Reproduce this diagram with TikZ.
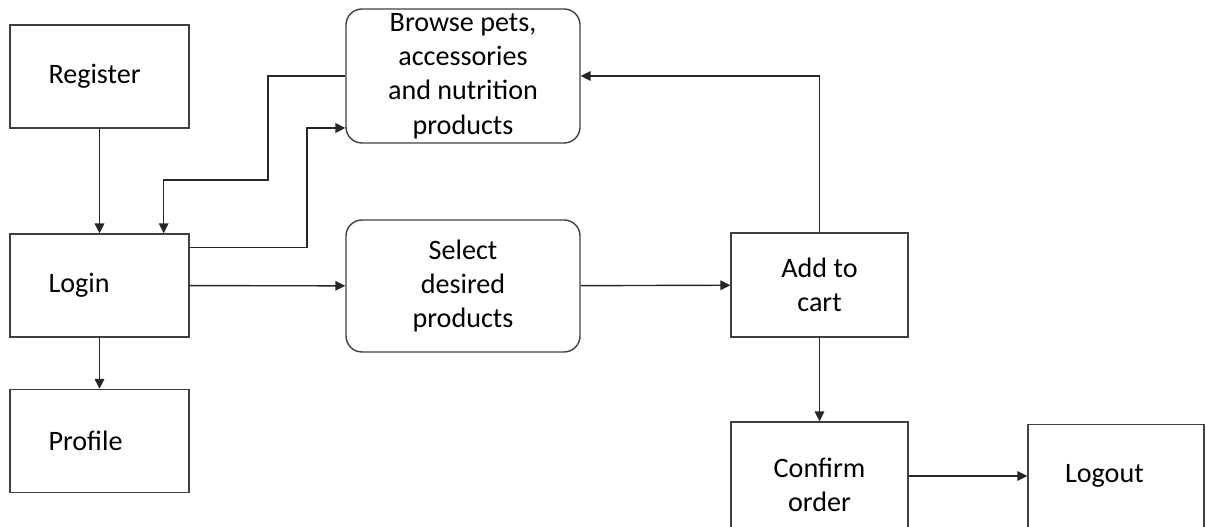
\documentclass[tikz,border=0pt]{standalone}
\usepackage{fontspec}
\setmainfont{Carlito}
\usetikzlibrary{arrows.meta}

\begin{document}
\begin{tikzpicture}[
  every node/.style={font=\fontsize{16}{19.5}\selectfont},
  sqbox/.style={shape=rectangle, draw=black!75, line width=0.8pt, minimum width=3.58cm, minimum height=2.06cm, align=left, text width=2.04cm},
  cbox/.style={shape=rectangle, draw=black!75, line width=0.8pt, minimum width=3.54cm, minimum height=2.08cm, align=center},
  rbox/.style={shape=rectangle, draw=black!75, line width=0.8pt, rounded corners=0.32cm, minimum width=4.68cm, inner ysep=0pt, align=center},
  flow/.style={-{Triangle[length=5.6pt,width=5.4pt]}, draw=black!85, line width=0.8pt}
]
\useasboundingbox (0,0) rectangle (24.14,10.54);
\node[sqbox] (register) at (1.99, 9.01) {Register};
\node[sqbox] (login) at (1.99, 4.83) {Login};
\node[sqbox] (profile) at (1.99, 1.72) {Profile};
\node[rbox, minimum height=2.68cm] (browse) at (9.26, 9.02) {Browse pets,\\accessories\\and nutrition\\products};
\node[rbox, minimum height=2.64cm] (select) at (9.26, 4.82) {Select\\desired\\products};
\node[cbox] (add) at (16.39, 4.84) {Add to\\cart};
\node[cbox, minimum height=2.52cm] (confirm) at (16.39, 0.84) {Confirm\\order};
\node[sqbox, anchor=north, minimum width=3.52cm, inner ysep=0pt, text height=1.16cm, text depth=1.3cm] (logout) at (22.32, 2.06) {Logout};
% bends of the two loops between login and browse
\coordinate (b1) at (5.36, 6.94);
\coordinate (b2) at (6.14, 7.98);
\draw[flow] (register) -- (login);
\draw[flow] (login) -- (profile);
\draw[flow] (browse.west) -| (b1) -| ([xshift=-0.52cm]login.north east);
\draw[flow] ([yshift=-0.28cm]login.north east) -| (b2) -- (b2 -| browse.west);
\draw[flow] (login) -- (select);
\draw[flow] (select) -- (add);
\draw[flow] (add.north) |- (browse.east);
\draw[flow] (add) -- (confirm);
\draw[flow] ([yshift=0.18cm]confirm.east) -- ([yshift=0.18cm]confirm.east -| logout.west);
\end{tikzpicture}
\end{document}
